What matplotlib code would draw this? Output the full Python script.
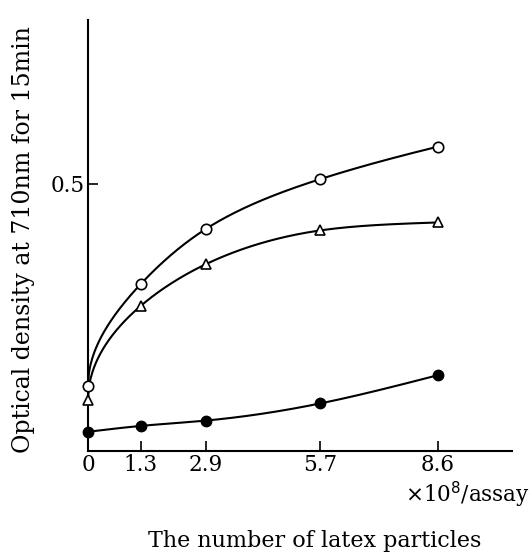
import numpy as np
import matplotlib
matplotlib.use("Agg")
import matplotlib.pyplot as plt

# Data
particles = [0, 1.3, 2.9, 5.7, 8.6]            # x 10^8 / assay
od_open_circle = [0.122, 0.313, 0.416, 0.509, 0.570]
od_triangle = [0.096, 0.272, 0.350, 0.413, 0.428]
od_filled_circle = [0.036, 0.047, 0.057, 0.089, 0.142]
x_tick_labels = ["0", "1.3", "2.9", "5.7", "8.6"]
y_ticks = [0.5]
y_tick_labels = ["0.5"]


def natural_spline(t, y, tt):
    t = np.asarray(t, float)
    y = np.asarray(y, float)
    n = len(t)
    h = np.diff(t)
    A = np.zeros((n, n))
    b = np.zeros(n)
    A[0, 0] = A[-1, -1] = 1
    for i in range(1, n - 1):
        A[i, i - 1] = h[i - 1]
        A[i, i] = 2 * (h[i - 1] + h[i])
        A[i, i + 1] = h[i]
        b[i] = 6 * ((y[i + 1] - y[i]) / h[i] - (y[i] - y[i - 1]) / h[i - 1])
    M = np.linalg.solve(A, b)
    out = np.empty_like(tt)
    for k, v in enumerate(tt):
        i = min(max(np.searchsorted(t, v) - 1, 0), n - 2)
        a, c = t[i], t[i + 1]
        hh = c - a
        out[k] = (M[i] * (c - v) ** 3 / (6 * hh) + M[i + 1] * (v - a) ** 3 / (6 * hh)
                  + (y[i] / hh - M[i] * hh / 6) * (c - v)
                  + (y[i + 1] / hh - M[i + 1] * hh / 6) * (v - a))
    return out


font = "DejaVu Serif"
plt.rcParams["font.family"] = [font]

fig = plt.figure(figsize=(5.31, 5.54), dpi=100)
ax = fig.add_axes([88 / 531, 1 - 451 / 554, (512 - 88) / 531, (451 - 20) / 554])

x = np.asarray(particles, float)
xs = np.linspace(0, x[-1], 400)
us = np.sqrt(xs)

lw = 1.5
# smooth curves through the points
ax.plot(xs, natural_spline(np.sqrt(x), od_open_circle, us), color="black", lw=lw, zorder=2)
ax.plot(xs, natural_spline(np.sqrt(x), od_triangle, us), color="black", lw=lw, zorder=2)
ax.plot(xs, natural_spline(x, od_filled_circle, xs), color="black", lw=lw, zorder=2)

ax.plot(x, od_open_circle, ls="none", marker="o", ms=7.5, mfc="white", mec="black", mew=1.2, zorder=3, clip_on=False)
ax.plot(x, od_triangle, ls="none", marker="^", ms=7.5, mfc="white", mec="black", mew=1.2, zorder=3, clip_on=False)
ax.plot(x, od_filled_circle, ls="none", marker="o", ms=7.5, mfc="black", mec="black", mew=1.0, zorder=3, clip_on=False)

ax.set_xlim(0, (512 - 88) / 40.7)
ax.set_ylim(0, (451 - 20) / 534)

for s in ["top", "right"]:
    ax.spines[s].set_visible(False)
for s in ["left", "bottom"]:
    ax.spines[s].set_linewidth(1.5)

ax.set_xticks(particles)
ax.set_xticklabels(x_tick_labels)
ax.set_yticks(y_ticks)
ax.set_yticklabels(y_tick_labels)
ax.tick_params(axis="both", direction="in", length=7, width=1.2, labelsize=15.5, pad=2)

ax.set_ylabel("Optical density at 710nm for 15min", fontsize=17)
ax.yaxis.set_label_coords(-0.125, 0.49)

fig.text(530 / 531, 1 - 502 / 554, r"$\times$10$^8$/assay", ha="right", va="baseline", fontsize=15.5)
fig.text(315 / 531, 1 - 541 / 554, "The number of latex particles", ha="center", va="center", fontsize=16)

fig.savefig("out.png", dpi=100)
